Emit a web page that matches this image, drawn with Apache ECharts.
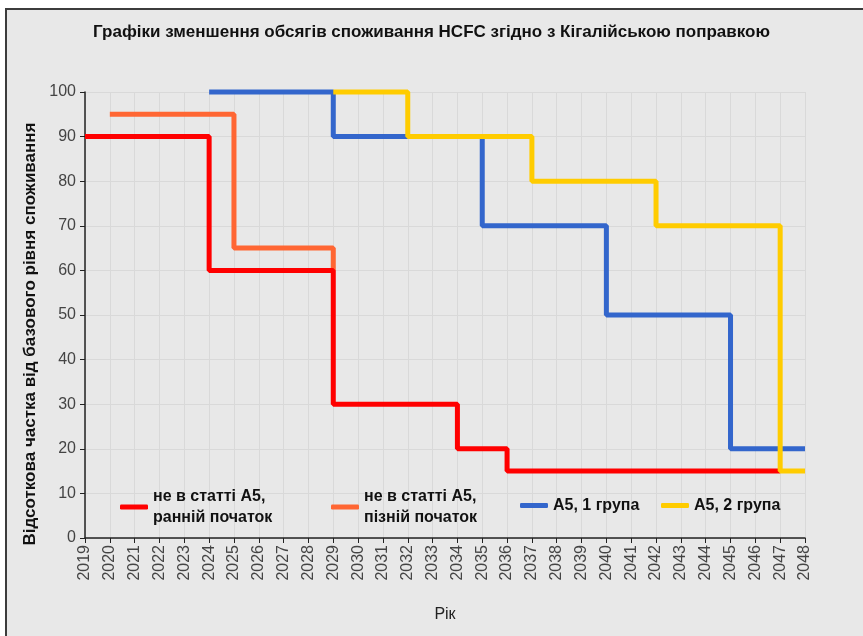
<!DOCTYPE html>
<html>
<head>
<meta charset="utf-8">
<script src="https://cdn.jsdelivr.net/npm/echarts@6/dist/echarts.min.js"></script>
<style>
  html, body { margin: 0; padding: 0; background: #fff; }
  #frame {
    position: absolute; left: 5px; top: 8px; right: 0; bottom: 0;
    background: #e8e8e8;
    border-left: 2px solid #3c3c3c; border-top: 2px solid #3c3c3c;
  }
  #chart { position: absolute; left: 0; top: 0; width: 863px; height: 636px; }
</style>
</head>
<body>
<div id="frame"></div>
<div id="chart"></div>
<script>
// [рік, % від базового рівня] — точки, де змінюється рівень
const notA5Early = [[2019, 90], [2024, 60], [2029, 30], [2034, 20], [2036, 15], [2047, 15]]
const notA5Late = [[2020, 95], [2025, 65], [2029, 60]]
const a5Group1 = [[2024, 100], [2029, 90], [2035, 70], [2040, 50], [2045, 20], [2048, 20]]
const a5Group2 = [[2029, 100], [2032, 90], [2037, 80], [2042, 70], [2047, 15], [2048, 15]]

const names = ['не в статті А5,\nранній початок', 'не в статті А5,\nпізній початок', 'А5, 1 група', 'А5, 2 група']
const colors = ['#ff0000', '#ff6633', '#3366cc', '#ffcc00']

const chart = echarts.init(document.getElementById('chart'))

const legendText = { fontFamily: 'Arial', fontSize: 16, fontWeight: 'bold', color: '#111', lineHeight: 21 }
function legendAt(name, left, top) {
  return {
    data: [name], left, top, orient: 'horizontal',
    icon: 'roundRect', itemWidth: 28, itemHeight: 5,
    textStyle: legendText, selectedMode: false,
  }
}

function stepSeries(i, data, z) {
  return {
    name: names[i],
    type: 'line',
    step: 'end',
    data,
    z,
    clip: false,
    showSymbol: false,
    color: colors[i],
    lineStyle: { width: 5, color: colors[i] },
  }
}

chart.setOption({
  animation: false,
  textStyle: { fontFamily: 'Arial' },
  title: {
    text: 'Графіки зменшення обсягів споживання HCFC згідно з Кігалійською поправкою',
    left: 'center',
    top: 19,
    textStyle: { fontFamily: 'Arial', fontSize: 17, fontWeight: 'bold', color: '#111' },
  },
  legend: [
    legendAt(names[0], 115, 481),
    legendAt(names[1], 326, 481),
    legendAt(names[2], 515, 490),
    legendAt(names[3], 656, 490),
  ],
  grid: { left: 85, right: 58, top: 92, bottom: 98 },
  xAxis: {
    type: 'value',
    min: 2019,
    max: 2048,
    interval: 1,
    name: 'Рік',
    nameLocation: 'middle',
    nameGap: 69,
    nameTextStyle: { fontSize: 16, color: '#222' },
    axisLine: { lineStyle: { color: '#222', width: 1.5 } },
    axisTick: { length: 5, lineStyle: { color: '#222' } },
    axisLabel: { rotate: 90, fontSize: 16, color: '#444', margin: 7, formatter: (v) => String(v) },
    splitLine: { lineStyle: { color: '#d9d9d9' } },
  },
  yAxis: {
    type: 'value',
    min: 0,
    max: 100,
    interval: 10,
    name: 'Відсоткова частка від базового рівня споживання',
    nameLocation: 'middle',
    nameGap: 46,
    nameTextStyle: { fontSize: 17, fontWeight: 'bold', color: '#111', padding: [0, 38, 0, 0] },
    axisLine: { show: true, lineStyle: { color: '#222', width: 1.5 } },
    axisTick: { show: true, length: 5, lineStyle: { color: '#222' } },
    axisLabel: { fontSize: 16, color: '#444', margin: 9 },
    splitLine: { lineStyle: { color: '#d9d9d9' } },
  },
  series: [
    stepSeries(1, notA5Late, 2),
    stepSeries(0, notA5Early, 3),
    stepSeries(2, a5Group1, 4),
    stepSeries(3, a5Group2, 5),
  ],
})
</script>
</body>
</html>
